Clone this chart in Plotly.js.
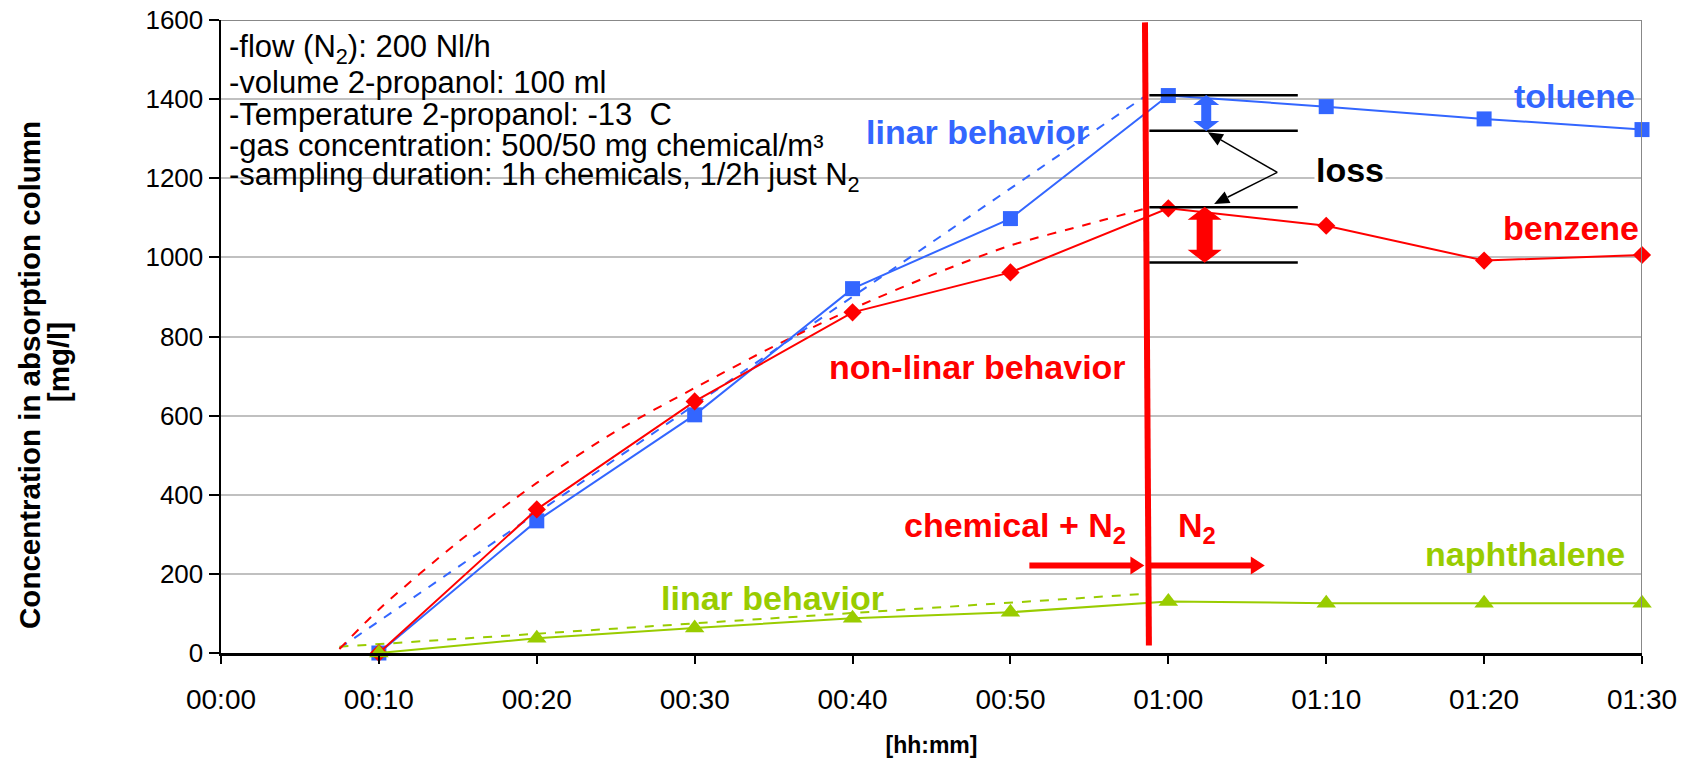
<!DOCTYPE html>
<html>
<head>
<meta charset="utf-8">
<script src="https://cdn.plot.ly/plotly-3.0.1.min.js"></script>
<style>
  html, body { margin: 0; padding: 0; background: #ffffff; }
  #chart { width: 1697px; height: 767px; }
</style>
</head>
<body>
<div id="chart"></div>
<script>
// ---------------- data (minutes since start) ----------------
const tickMinutes = [0, 10, 20, 30, 40, 50, 60, 70, 80, 90];
const tickLabels = ["00:00", "00:10", "00:20", "00:30", "00:40", "00:50", "01:00", "01:10", "01:20", "01:30"];

const sampleMinutes = [10, 20, 30, 40, 50, 60, 70, 80, 90];
const toluene = [0, 334, 602, 921, 1098, 1409, 1381, 1350, 1323];
const benzene = [0, 363, 636, 861, 962, 1124, 1080, 992, 1006];
const naphthalene = [0, 37, 63, 88, 103, 130, 126, 126, 126];

// dashed reference lines
const tolueneLinearX = [7.5, 58.7];
const tolueneLinearY = [12, 1412];
const naphthaleneLinearX = [7.5, 58.7];
const naphthaleneLinearY = [16, 150];
const benzeneCurveX = [7.5, 10, 15, 20, 25, 30, 35, 40, 45, 50, 55, 58.7];
const benzeneCurveY = [10, 110, 280, 430, 560, 670, 775, 870, 955, 1030, 1085, 1125];

// ---------------- styling ----------------
const BLUE = "#3366FF";
const RED = "#FF0000";
const GREEN = "#99CC00";
const FONT = "Liberation Sans, Arial, sans-serif";

const W = 1697, H = 767;
const M = { l: 221, r: 55, t: 20, b: 114 };
const X_RANGE = [0, 90], Y_RANGE = [0, 1600];
const pxPerX = (W - M.l - M.r) / (X_RANGE[1] - X_RANGE[0]);
const pxPerY = (H - M.t - M.b) / (Y_RANGE[1] - Y_RANGE[0]);

const traces = [
  { x: tolueneLinearX, y: tolueneLinearY, mode: "lines", line: { color: BLUE, width: 2, dash: "dash" }, hoverinfo: "skip", cliponaxis: false },
  { x: naphthaleneLinearX, y: naphthaleneLinearY, mode: "lines", line: { color: GREEN, width: 2, dash: "dash" }, hoverinfo: "skip", cliponaxis: false },
  { x: benzeneCurveX, y: benzeneCurveY, mode: "lines", line: { color: RED, width: 2, dash: "dash", shape: "spline", smoothing: 0.8 }, hoverinfo: "skip", cliponaxis: false },
  { name: "toluene", x: sampleMinutes, y: toluene, mode: "lines+markers", line: { color: BLUE, width: 2 },
    marker: { symbol: "square", size: 15, color: BLUE }, cliponaxis: false },
  { name: "benzene", x: sampleMinutes, y: benzene, mode: "lines+markers", line: { color: RED, width: 2 },
    marker: { symbol: "diamond", size: 14, color: RED }, cliponaxis: false },
  { name: "naphthalene", x: sampleMinutes, y: naphthalene, mode: "lines+markers", line: { color: GREEN, width: 2 },
    marker: { symbol: "triangle-up", size: 17, color: GREEN }, cliponaxis: false }
];

// annotation positions (layout decorations)
const SWITCH_TOP = { x: 58.52, y: 1594 };
const SWITCH_BOTTOM = { x: 58.77, y: 19 };
const lossLineX = [58.8, 68.2];
const lossLineY = [1410, 1320, 1127, 987];
const lossArrowTail = { x: 66.9, y: 1215 };
const lossArrowHeads = [{ x: 62.5, y: 1316 }, { x: 62.9, y: 1135 }];

const infoLines = [
  "-flow (N<sub>2</sub>): 200 Nl/h",
  "-volume 2-propanol: 100 ml",
  "-Temperature 2-propanol: -13 \u00a0C",
  "-gas concentration: 500/50 mg chemical/m\u00b3",
  "-sampling duration: 1h chemicals, 1/2h just N<sub>2</sub>"
];
const infoLineY = [1526, 1442, 1362, 1283, 1203];

const shapes = [
  // white text-box background hiding gridlines
  { type: "rect", layer: "below", xref: "x", yref: "y", x0: 0.2, x1: 41.7, y0: 956, y1: 1600, fillcolor: "#ffffff", line: { width: 0 } },
  // plot area border (top / right)
  { type: "line", xref: "x", yref: "y", x0: 0, x1: 90, y0: 1600, y1: 1600, line: { color: "#888888", width: 2 } },
  { type: "line", xref: "x", yref: "y", x0: 90, x1: 90, y0: 0, y1: 1600, line: { color: "#888888", width: 2 } },
  // red switch-over line
  { type: "line", xref: "x", yref: "y", x0: SWITCH_TOP.x, y0: SWITCH_TOP.y, x1: SWITCH_BOTTOM.x, y1: SWITCH_BOTTOM.y, line: { color: RED, width: 6 } }
];
lossLineY.forEach(v => shapes.push({ type: "line", xref: "x", yref: "y", x0: lossLineX[0], x1: lossLineX[1], y0: v, y1: v, line: { color: "#000000", width: 2.5 } }));

// thin black arrows (line + filled head computed in pixel space)
lossArrowHeads.forEach(hd => {
  const dxp = (hd.x - lossArrowTail.x) * pxPerX, dyp = (hd.y - lossArrowTail.y) * pxPerY;
  const len = Math.hypot(dxp, dyp), ux = dxp / len, uy = dyp / len;
  const hl = 15, hw = 6.5;
  const bx = -ux * hl, by = -uy * hl;
  const p1 = { x: hd.x + (bx - uy * hw) / pxPerX, y: hd.y + (by + ux * hw) / pxPerY };
  const p2 = { x: hd.x + (bx + uy * hw) / pxPerX, y: hd.y + (by - ux * hw) / pxPerY };
  const base = { x: hd.x + bx / pxPerX, y: hd.y + by / pxPerY };
  shapes.push({ type: "line", xref: "x", yref: "y", x0: lossArrowTail.x, y0: lossArrowTail.y, x1: base.x, y1: base.y, line: { color: "#000000", width: 1.5 } });
  shapes.push({ type: "path", xref: "x", yref: "y", path: `M${hd.x},${hd.y} L${p1.x},${p1.y} L${p2.x},${p2.y} Z`, fillcolor: "#000000", line: { width: 0 } });
});

// fat double arrows (pixel-sized paths anchored at data positions)
shapes.push({ type: "path", xref: "x", yref: "y", xsizemode: "pixel", ysizemode: "pixel", xanchor: 62.4, yanchor: 1365,
  path: "M-5,-8 L-13,-8 L0,-18 L13,-8 L5,-8 L5,8 L13,8 L0,18 L-13,8 L-5,8 Z", fillcolor: BLUE, line: { width: 0 } });
shapes.push({ type: "path", xref: "x", yref: "y", xsizemode: "pixel", ysizemode: "pixel", xanchor: 62.3, yanchor: 1057,
  path: "M-8,-15 L-17,-15 L0,-28 L17,-15 L8,-15 L8,15 L17,15 L0,28 L-17,15 L-8,15 Z", fillcolor: RED, line: { width: 0 } });
// horizontal red arrows
shapes.push({ type: "path", xref: "x", yref: "y", xsizemode: "pixel", ysizemode: "pixel", xanchor: 51.2, yanchor: 221,
  path: "M0,-3 L101,-3 L101,-9 L115,0 L101,9 L101,3 L0,3 Z", fillcolor: RED, line: { width: 0 } });
shapes.push({ type: "path", xref: "x", yref: "y", xsizemode: "pixel", ysizemode: "pixel", xanchor: 58.7, yanchor: 221,
  path: "M0,-3 L103,-3 L103,-9 L117,0 L103,9 L103,3 L0,3 Z", fillcolor: RED, line: { width: 0 } });

function label(text, x, y, color, size, extra) {
  return Object.assign({ text: "<b>" + text + "</b>", x: x, y: y, xref: "x", yref: "y", showarrow: false,
    font: { family: FONT, size: size, color: color }, xanchor: "center", yanchor: "middle" }, extra || {});
}

const annotations = [];
infoLines.forEach((t, i) => annotations.push({ text: t, x: 0.38, y: infoLineY[i], xref: "x", yref: "y", showarrow: false,
  xanchor: "left", yanchor: "middle", font: { family: FONT, size: 31, color: "#000000" } }));
const LBL = 34;
annotations.push(label("linar behavior", 47.9, 1316, BLUE, LBL));
annotations.push(label("non-linar behavior", 47.9, 724, RED, LBL));
annotations.push(label("toluene", 85.7, 1409, BLUE, LBL));
annotations.push(label("benzene", 85.5, 1073, RED, LBL));
annotations.push(label("naphthalene", 82.6, 249, GREEN, LBL));
annotations.push(label("linar behavior", 34.9, 138, GREEN, LBL));
annotations.push(label("loss", 71.5, 1222, "#000000", LBL, { bgcolor: "#ffffff" }));
annotations.push(label("chemical + N<sub>2</sub>", 50.3, 317, RED, LBL));
annotations.push(label("N<sub>2</sub>", 61.8, 317, RED, LBL));

// y-axis title (two lines placed individually)
annotations.push({ text: "<b>Concentration in absorption column</b>", xref: "paper", yref: "paper", x: -0.1348, y: 0.440,
  xanchor: "center", yanchor: "middle", textangle: -90, showarrow: false, font: { family: FONT, size: 29.5, color: "#000000" } });
annotations.push({ text: "<b>[mg/l]</b>", xref: "paper", yref: "paper", x: -0.1142, y: 0.459,
  xanchor: "center", yanchor: "middle", textangle: -90, showarrow: false, font: { family: FONT, size: 29.5, color: "#000000" } });

const layout = {
  width: W, height: H,
  margin: M,
  paper_bgcolor: "#ffffff", plot_bgcolor: "#ffffff",
  showlegend: false,
  font: { family: FONT, color: "#000000" },
  xaxis: {
    range: X_RANGE, tickvals: tickMinutes, ticktext: tickLabels,
    showgrid: false, zeroline: false, showline: true, linecolor: "#000000", linewidth: 3,
    ticks: "outside", ticklen: 8, tickwidth: 2, tickcolor: "#000000", ticklabelstandoff: 11,
    tickfont: { family: FONT, size: 28, color: "#000000" },
    title: { text: "<b>[hh:mm]</b>", font: { family: FONT, size: 23, color: "#000000" }, standoff: 24 }
  },
  yaxis: {
    range: Y_RANGE, dtick: 200, tick0: 0,
    showgrid: true, gridcolor: "#c0c0c0", gridwidth: 2, zeroline: false,
    showline: true, linecolor: "#000000", linewidth: 2.5,
    ticks: "outside", ticklen: 10, tickwidth: 2, tickcolor: "#000000",
    tickfont: { family: FONT, size: 26, color: "#000000" }
  },
  shapes: shapes,
  annotations: annotations
};

Plotly.newPlot("chart", traces, layout, { staticPlot: true, displayModeBar: false });
</script>
</body>
</html>
